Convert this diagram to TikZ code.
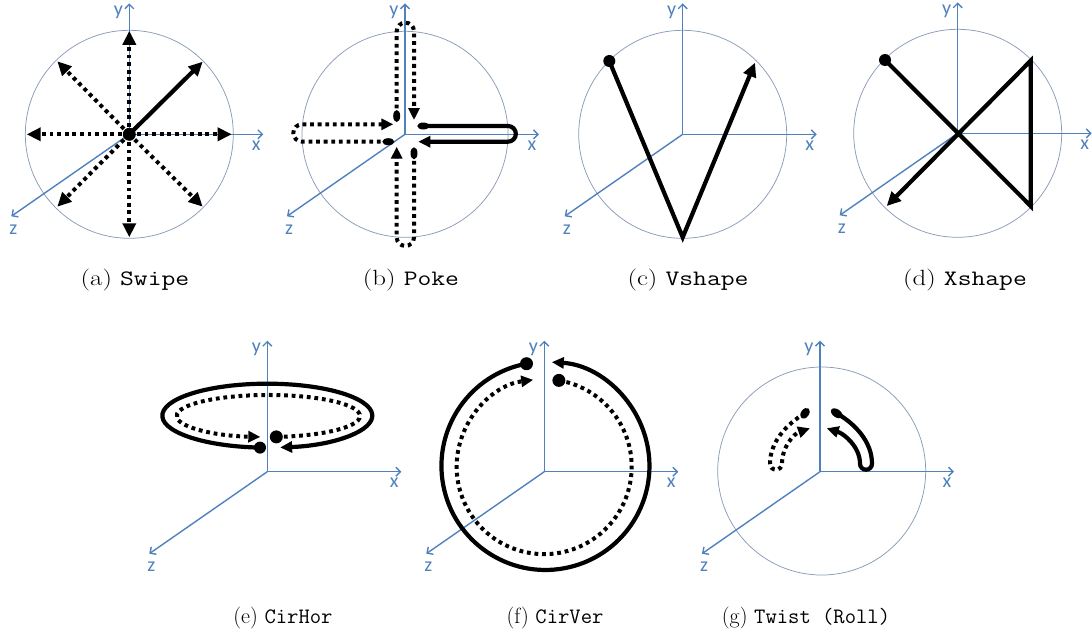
\documentclass[tikz,border=0pt]{standalone}
\usepackage{fontspec}
\newfontfamily\axfont{Carlito}
\usetikzlibrary{arrows.meta}
\definecolor{axblue}{HTML}{4F81BD}
\definecolor{ringc}{HTML}{8A9BB8}
\tikzset{
 axln/.style={draw=axblue, line width=1.4pt, -{Straight Barb[length=4.5pt,width=9pt]}},
 axlab/.style={text=axblue, font=\axfont\fontsize{20}{20}\selectfont, inner sep=0pt},
 ring/.style={draw=ringc, line width=0.75pt},
 solidln/.style={draw=black, line width=4.2pt},
 dotln/.style={draw=black, line width=4pt, dash pattern=on 3.8pt off 3.8pt},
 tipA/.style={-{Triangle[length=14pt,width=13pt]}},
 tipB/.style={-{Triangle[length=12pt,width=11pt]}},
 capt/.style={anchor=base, font=\fontsize{22}{26}\selectfont, inner sep=0pt},
}
\newcommand\wcap[1]{\scalebox{1.22}[1]{#1}}
\newcommand\myaxesdraw[1]{%
 \coordinate (#1O) at (0,0);
 \coordinate (#1X) at (134,0);
 \coordinate (#1Y) at (0,-131);
 \coordinate (#1Z) at (-118,82);
 \draw[axln] (#1O) -- (#1X);
 \draw[axln] (#1O) -- (#1Y);
 \draw[axln] (#1O) -- (#1Z);
 \node[axlab] (#1xl) at (127,11) {x};
 \node[axlab] (#1yl) at (-11,-122) {y};
 \node[axlab] (#1zl) at (-116,95) {z};
}
\begin{document}
\begin{tikzpicture}[x=1pt,y=-1pt]
\useasboundingbox (0,0) rectangle (1092,635);

% (a) Swipe
\begin{scope}[shift={(129.3,134.3)}]
 \draw[ring] (0,0) circle[radius=104];
 \myaxesdraw{a}
 \coordinate (aN) at (0,-103.5);
 \coordinate (aS) at (0,103);
 \coordinate (aW) at (-102.6,0);
 \coordinate (aE) at (102.4,0);
 \coordinate (aNW) at (-72,-73);
 \coordinate (aSW) at (-72,72.4);
 \coordinate (aSE) at (73.4,72.4);
 \coordinate (aNE) at (73.4,-72.6);
 \foreach \t in {aN,aS,aW,aE,aNW,aSW,aSE} \draw[dotln,tipA] (aO) -- (\t);
 \draw[solidln,tipA] (aO) -- (aNE);
 \fill (aO) circle[radius=6.5];
\end{scope}

% (b) Poke
\begin{scope}[shift={(405,134.3)}]
 \draw[ring] (0,0) circle[radius=103];
 \myaxesdraw{b}
 \coordinate (bTd) at (-8.3,-18.3);
 \coordinate (bTe) at (9,-14.3);
 \draw[dotln,tipB] (bTd) -- (-8.3,-103) arc[start angle=180,end angle=360,radius=8.65] -- (bTe);
 \fill (bTd) ellipse[x radius=3.5,y radius=6];
 \coordinate (bLd) at (-16.7,7.4);
 \coordinate (bLe) at (-11.7,-10);
 \draw[dotln,tipB] (bLd) -- (-103,7.4) arc[start angle=90,end angle=270,radius=8.7] -- (bLe);
 \fill (bLd) ellipse[x radius=6,y radius=3.5];
 \coordinate (bBd) at (9,19);
 \coordinate (bBe) at (-8.3,12.4);
 \draw[dotln,tipB] (bBd) -- (9,103) arc[start angle=0,end angle=180,radius=8.65] -- (bBe);
 \fill (bBd) ellipse[x radius=3.5,y radius=6];
 \coordinate (bRd) at (18.3,-8.3);
 \coordinate (bRe) at (13.3,7.4);
 \draw[solidln,tipB] (bRd) -- (103,-8.3) arc[start angle=-90,end angle=90,radius=7.85] -- (bRe);
 \fill (bRd) ellipse[x radius=6,y radius=3.5];
\end{scope}

% (c) Vshape
\begin{scope}[shift={(682.7,134.3)}]
 \draw[ring] (0,0) circle[radius=104];
 \myaxesdraw{c}
 \coordinate (cA) at (-73.4,-73.3);
 \coordinate (cB) at (0,103);
 \coordinate (cC) at (72.3,-71.6);
 \draw[solidln,tipA,line join=miter] (cA) -- (cB) -- (cC);
 \fill (cA) circle[radius=6];
\end{scope}

% (d) Xshape
\begin{scope}[shift={(957.7,133.3)}]
 \draw[ring] (0,0) circle[radius=104];
 \myaxesdraw{d}
 \coordinate (dA) at (-72.7,-73.3);
 \coordinate (dB) at (73,72.7);
 \coordinate (dC) at (73,-72.6);
 \coordinate (dD) at (-71,72.7);
 \draw[solidln,tipA,line join=miter] (dA) -- (dB) -- (dC) -- (dD);
 \fill (dA) circle[radius=6];
\end{scope}

% (e) CirHor
\begin{scope}[shift={(267.3,471.7)}]
 \myaxesdraw{e}
 \coordinate (eSd) at (-7.3,-24.1);
 \draw[solidln,tipB] (eSd) arc[start angle=94,end angle=443,x radius=105,y radius=32];
 \fill (eSd) circle[radius=6];
 \coordinate (eDd) at (9,-34.8);
 \draw[dotln,tipB] (eDd) arc[start angle=85,end angle=-265,x radius=91.7,y radius=21];
 \fill (eDd) circle[radius=6.5];
\end{scope}

% (f) CirVer
\begin{scope}[shift={(544.3,471.7)}]
 \myaxesdraw{f}
 \coordinate (fSd) at (-17.8,-108);
 \draw[solidln,tipB] (fSd) arc[start angle=259.5,end angle=-86.5,radius=104];
 \fill (fSd) circle[radius=6.5];
 \coordinate (fDd) at (14.6,-91.3);
 \draw[dotln,tipB] (fDd) arc[start angle=-80.3,end angle=262.8,radius=87.5];
 \fill (fDd) circle[radius=6.5];
\end{scope}

% (g) Twist (Roll)
\begin{scope}[shift={(820,471.7)}]
 \draw[ring] (1.7,-0.7) circle[radius=104];
 \myaxesdraw{g}
 \coordinate (gSd) at (16.7,-58.4);
 \coordinate (gSe) at (6.7,-43.4);
 \draw[solidln,tipB] (gSd) .. controls (35,-48) and (52,-30) .. (52,-8) arc[start angle=0,end angle=180,radius=6] .. controls (40,-25) and (24,-38) .. (gSe);
 \fill[shift={(16.7,-58.4)}, rotate=-35] (0,0) ellipse[x radius=6.5,y radius=4];
 \coordinate (gDd) at (-15,-58.4);
 \coordinate (gDe) at (-10,-43.4);
 \draw[dotln,tipB] (gDd) .. controls (-33,-48) and (-50,-30) .. (-50,-8) arc[start angle=180,end angle=0,radius=6] .. controls (-38,-25) and (-26,-38) .. (gDe);
 \fill[shift={(-15,-58.4)}, rotate=55] (0,0) ellipse[x radius=6,y radius=4];
\end{scope}

% captions
\node[capt] (capA) at (135,285) {\wcap{(a) \texttt{Swipe}}};
\node[capt] (capB) at (411,285) {\wcap{(b) \texttt{Poke}}};
\node[capt] (capC) at (688,285) {\wcap{(c) \texttt{Vshape}}};
\node[capt] (capD) at (965,285) {\wcap{(d) \texttt{Xshape}}};
\node[capt] (capE) at (283,623) {(e) \texttt{CirHor}};
\node[capt] (capF) at (555,623) {(f) \texttt{CirVer}};
\node[capt] (capG) at (806,623) {(g) \texttt{Twist (Roll)}};
\end{tikzpicture}
\end{document}
